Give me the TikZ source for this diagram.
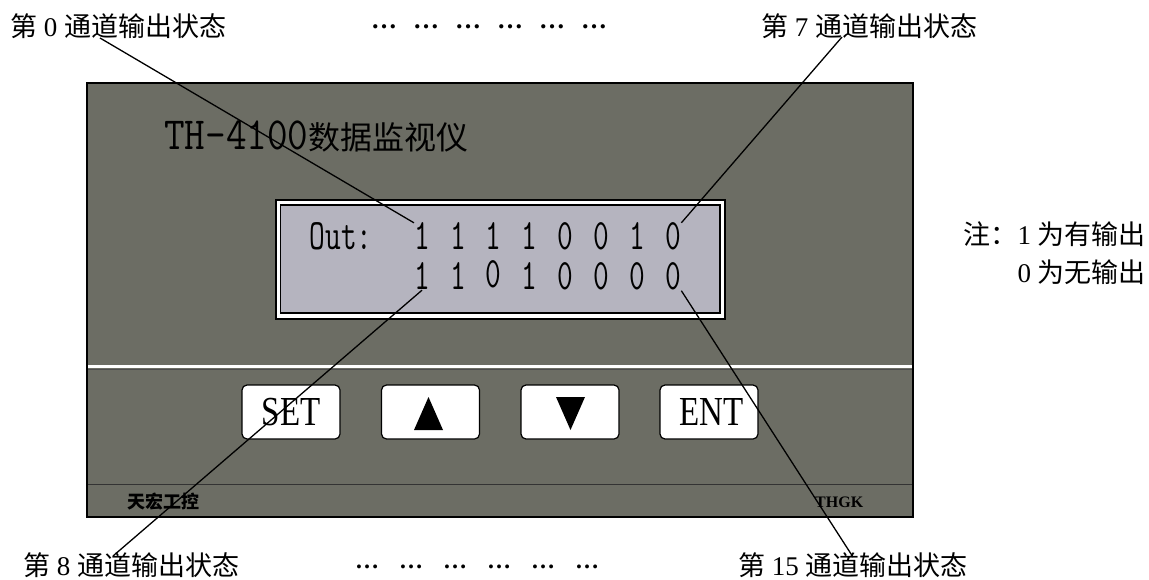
\documentclass[tikz,border=0pt]{standalone}
\usepackage{fontspec}
\usepackage{graphicx}
\setmainfont{Liberation Serif}
\newfontfamily\cjk{Noto Sans CJK SC}
\newcommand\hz[1]{{\cjk #1}}
\newcommand\lcdtxt[1]{\scalebox{1}[1.42]{#1}}
\definecolor{panelgrey}{RGB}{108,109,100}
\definecolor{lcdgrey}{RGB}{181,180,191}
\tikzset{
  key/.style={draw=black, fill=white, rounded corners=5pt, line width=1.2pt,
    minimum width=98pt, minimum height=54pt, inner sep=0pt,
    font=\fontsize{33}{33}\selectfont},
  lcd/.style={inner sep=0pt, anchor=base, font=\fontsize{30.5}{30.5}\ttfamily},
  tag/.style={inner sep=0pt, anchor=base west, font=\fontsize{27}{27}\selectfont},
  lead/.style={draw=black, line width=1.3pt},
}
\begin{document}
\begin{tikzpicture}[x=1pt,y=-1pt]
      \useasboundingbox (0,0) rectangle (1149,580);
      \draw[fill=panelgrey, line width=1.2pt] (87,83) rectangle (913,517);
      \draw[white, line width=3pt] (88,366.5) -- (912,366.5);
      \draw[black!70, line width=1pt] (88,369.5) -- (912,369.5);
      \draw[black!80, line width=1pt] (88,484) -- (912,484);
      \node[inner sep=0pt, anchor=base west] (title) at (164,150)
        {{\fontsize{40}{40}\ttfamily\scalebox{1}[1.15]{TH-4100}}\hz{\fontsize{32}{32}\selectfont 数据监视仪}};
      \draw[fill=white, line width=1.2pt] (276,200) rectangle (725,319);
      \draw[fill=lcdgrey, line width=1.2pt] (280.5,205) rectangle (720,313);
      \node[lcd] (out) at (341,250) {\lcdtxt{Out:}};
      \foreach \v [count=\i from 0] in {1,1,1,1,0,0,1,0}
        \node[lcd] (a\i) at (422+35.9*\i,250) {\lcdtxt{\v}};
      \foreach \v/\dy [count=\i from 0] in {1/0,1/0,0/2.5,1/0,0/0,0/0,0/0,0/0}
        \node[lcd] (b\i) at (422+35.9*\i,290-\dy) {\lcdtxt{\v}};
      \node[key] (set) at (291,412) {\scalebox{1}[1.25]{SET}};
      \node[key] (up) at (430.5,412) {};
      \node[key] (down) at (570,412) {};
      \node[key] (ent) at (709,412) {\hspace*{5pt}\scalebox{1}[1.25]{ENT}};
      \fill ([shift={(-2,-15)}]up.center) -- ([shift={(12.5,18)}]up.center)
        -- ([shift={(-16.5,18)}]up.center) -- cycle;
      \fill ([shift={(-14,-15)}]down.center) -- ([shift={(15,-15)}]down.center)
        -- ([shift={(0.5,18)}]down.center) -- cycle;
      \node[inner sep=0pt, anchor=base west, font=\fontsize{18}{18}\selectfont] (brand) at (127,508)
        {\hz{\bfseries 天宏工控}};
      \node[inner sep=0pt, anchor=base west, font=\fontsize{16}{16}\selectfont\bfseries] (mark) at (815,507) {THGK};
      \node[tag] (lab0) at (10,36.5) {\hz{第} 0 \hz{通道输出状态}};
      \node[tag] (lab7) at (761,36.5) {\hz{第} 7 \hz{通道输出状态}};
      \node[tag] (lab8) at (23,575) {\hz{第} 8 \hz{通道输出状态}};
      \node[tag] (lab15) at (738,575) {\hz{第} 15 \hz{通道输出状态}};
      \foreach \k in {0,...,5}
        \node[tag, font=\fontsize{26}{26}\selectfont\bfseries] (dt\k) at (371+42*\k,29) {…};
      \foreach \k in {0,...,5}
        \node[tag, font=\fontsize{24}{24}\selectfont\bfseries] (db\k) at (355+44*\k,568) {…};
      \node[tag, anchor=base east] (note1) at (1146,245) {\hz{注：}1 \hz{为有输出}};
      \node[tag, anchor=base east] (note2) at (1146,283) {0 \hz{为无输出}};
      \coordinate (p0) at (100,38);
      \coordinate (p7) at (842,37);
      \coordinate (p8) at (113,556);
      \coordinate (p15) at (853,557);
      \begin{scope}[lead]
        \draw (p0) to (a0.north west);
        \draw (p7) to (a7.north east);
        \draw (b0.south) to (p8);
        \draw (b7.south east) to (p15);
      \end{scope}
\end{tikzpicture}
\end{document}
